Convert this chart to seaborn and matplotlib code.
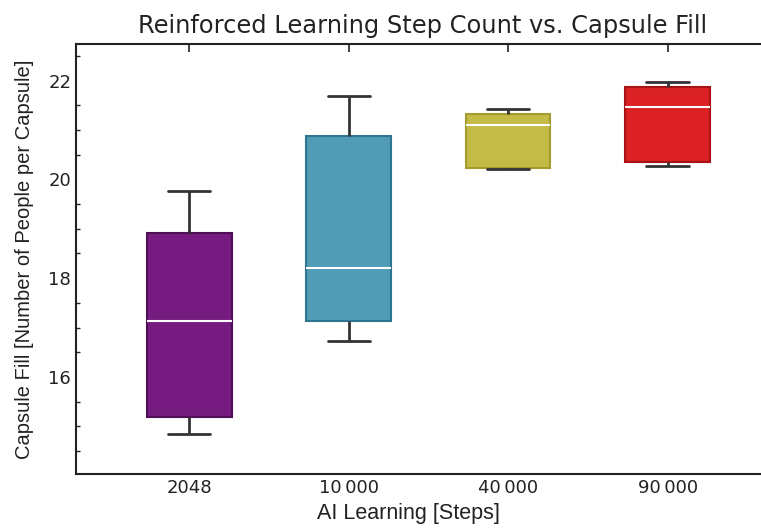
import pandas as pd
import matplotlib.pyplot as plt
import seaborn as sns
from matplotlib.ticker import MultipleLocator

steps = ["2048", "10\u2009000", "40\u2009000", "90\u2009000"]
# five points per group: min, Q1, median, Q3, max
fill_2048 = [14.85, 15.19, 17.14, 18.92, 19.76]
fill_10000 = [16.73, 17.14, 18.20, 20.88, 21.68]
fill_40000 = [20.21, 20.23, 21.11, 21.33, 21.43]
fill_90000 = [20.27, 20.35, 21.46, 21.87, 21.97]
face_colors = ["#761C80", "#509BB5", "#C3BB45", "#DB2123"]
edge_colors = ["#4E0F57", "#2F7490", "#A39C30", "#A81214"]

df = pd.DataFrame({
    "steps": [s for s, v in zip(steps, [fill_2048, fill_10000, fill_40000, fill_90000]) for _ in v],
    "fill": fill_2048 + fill_10000 + fill_40000 + fill_90000,
})

sns.set_style("white")
fig = plt.figure(figsize=(7.61, 5.30), dpi=100)
ax = fig.add_axes([0.1, 0.106, 0.926, 0.811])

sns.boxplot(data=df, x="steps", y="fill", hue="steps", palette=face_colors,
            order=steps, width=0.53, saturation=1, legend=False, ax=ax,
            whis=3,
            boxprops=dict(linewidth=1.5),
            whiskerprops=dict(color="#333333", linewidth=2),
            capprops=dict(color="#333333", linewidth=2),
            medianprops=dict(color="white", linewidth=1.5))

for patch, ec in zip(ax.patches, edge_colors):
    patch.set_edgecolor(ec)

ax.set_xlim(-0.71, 3.71)
ax.set_ylim(14.04, 22.74)
ax.yaxis.set_major_locator(MultipleLocator(2))
ax.yaxis.set_minor_locator(MultipleLocator(0.5))
ax.tick_params(axis="both", which="major", direction="in", length=6, width=1.2,
               top=True, right=True, labelsize=13, colors="#222222")
ax.tick_params(axis="y", which="minor", direction="in", length=3, width=1, left=True, right=True)
for sp in ax.spines.values():
    sp.set_linewidth(1.5)
    sp.set_color("#222222")

ax.set_title("Reinforced Learning Step Count vs. Capsule Fill", fontsize=17.4,
             color="#222222", x=0.491, pad=8)
ax.set_xlabel("AI Learning [Steps]", fontsize=15.5, family="Liberation Sans",
              color="#222222")
ax.xaxis.set_label_coords(0.472, -0.068)
ax.set_ylabel("Capsule Fill [Number of People per Capsule]", fontsize=14.5,
              family="Liberation Sans", color="#222222", labelpad=10)

plt.savefig("out.png", dpi=100)
